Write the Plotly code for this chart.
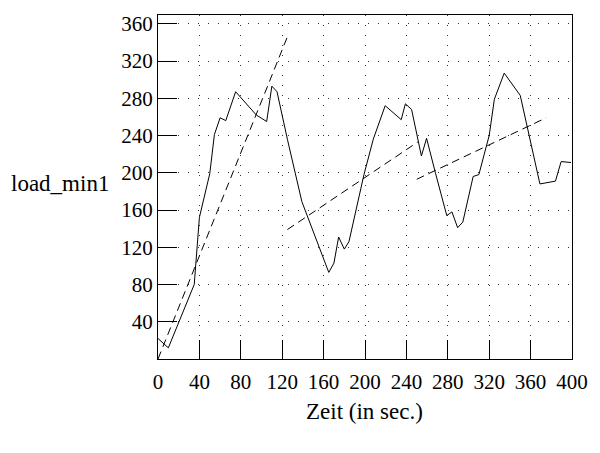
import plotly.graph_objects as go

# Measured 1-minute load average over time
zeit = [0, 10, 35, 40, 50, 54.5, 60, 65.5, 75, 95, 105, 110, 115, 125, 139, 165,
        170, 174.5, 180, 184.5, 199, 208, 219.5, 235, 239, 245, 254.5, 259.5, 268,
        279, 284, 289.5, 294.5, 304.5, 310, 320, 325, 334.5, 350, 369, 384, 389.5, 399]
load_min1 = [22, 12, 80, 152, 199, 241, 259, 256, 287, 262, 255, 293, 287, 236, 169, 93,
             103, 131, 118, 126, 198, 236, 272, 257, 274, 268, 218, 237, 200,
             154, 158, 141, 147, 196, 198, 240, 279, 307, 283, 188, 191, 212, 211]

# Piecewise linear trend segments
trend1_x = [0, 125]
trend1_y = [0, 346]
trend2_x = [125, 251]
trend2_y = [139, 233]
trend3_x = [250, 375]
trend3_y = [193, 259]

serif = "Liberation Serif"

fig = go.Figure()
fig.add_trace(go.Scatter(x=zeit, y=load_min1, mode="lines",
                         line=dict(color="black", width=1), showlegend=False))
for tx, ty in [(trend1_x, trend1_y), (trend2_x, trend2_y), (trend3_x, trend3_y)]:
    fig.add_trace(go.Scatter(x=tx, y=ty, mode="lines",
                             line=dict(color="black", width=1, dash="8px,5px"),
                             showlegend=False))

axis_common = dict(
    showline=True, linecolor="black", linewidth=1, mirror=True,
    showgrid=True, gridcolor="#333333", gridwidth=1, griddash="1px,9px",
    ticks="inside", ticklen=19, tickcolor="black", tickwidth=1.2,
    zeroline=False, tickfont=dict(family=serif, size=21, color="black"),
)

fig.update_layout(
    width=600, height=453,
    margin=dict(l=158, r=19, t=14, b=94),
    plot_bgcolor="white", paper_bgcolor="white",
    xaxis=dict(range=[0, 400], tickmode="array",
               tickvals=list(range(0, 401, 40)), ticklabelstandoff=4,
               **axis_common),
    yaxis=dict(range=[0, 369.4], tickmode="array",
               tickvals=list(range(40, 361, 40)), **axis_common),
    annotations=[
        dict(text="load_min1", xref="paper", yref="paper", x=-0.3605, y=0.509,
             xanchor="left", yanchor="middle", showarrow=False,
             font=dict(family=serif, size=23, color="black")),
        dict(text="Zeit (in sec.)", xref="paper", yref="paper", x=0.499, y=-0.1537,
             xanchor="center", yanchor="middle", showarrow=False,
             font=dict(family=serif, size=23, color="black")),
    ],
)

fig.write_html("out.html")
